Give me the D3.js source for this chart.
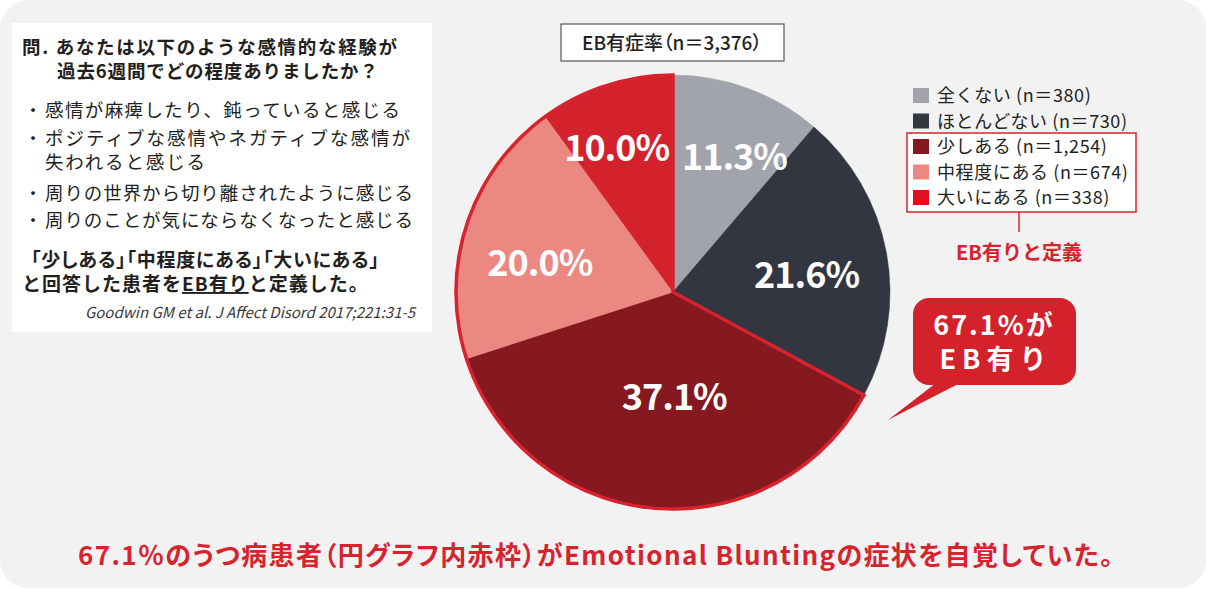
<!DOCTYPE html>
<html>
<head>
<meta charset="utf-8">
<script src="https://cdn.jsdelivr.net/npm/d3@7"></script>
<style>
  body { margin: 0; background: #fff; }
  svg { display: block; }
  text { font-family: "Noto Sans CJK JP", "Noto Sans", sans-serif; }
  .palt { font-feature-settings: "palt"; }
</style>
</head>
<body>
<svg id="chart" width="1206" height="589"></svg>
<script>
// data
const categories = ["全くない", "ほとんどない", "少しある", "中程度にある", "大いにある"];
const counts = [380, 730, 1254, 674, 338];
const ebFlags = [false, false, true, true, true];
const totalN = 3376;
const sliceColors = ["#a1a4ac", "#323640", "#86181f", "#ec8882", "#d4222c"];
const legendColors = ["#a1a4ac", "#323640", "#86181f", "#ec8882", "#e3101f"];

const questionLines = ["問. あなたは以下のような感情的な経験が", "過去6週間でどの程度ありましたか？"];
const bulletLines = [
  ["感情が麻痺したり、鈍っていると感じる"],
  ["ポジティブな感情やネガティブな感情が", "失われると感じる"],
  ["周りの世界から切り離されたように感じる"],
  ["周りのことが気にならなくなったと感じる"]
];
const citation = "Goodwin GM et al. J Affect Disord 2017;221:31-5";
const summary = "67.1％のうつ病患者（円グラフ内赤枠）がEmotional Bluntingの症状を自覚していた。";

const svg = d3.select("#chart");
const red = "#d7232e";
const ink = "#231f20";

// background panel
svg.append("rect")
  .attr("x", 0).attr("y", 0)
  .attr("width", 1206).attr("height", 588)
  .attr("rx", 28)
  .attr("fill", "#f2f2f2");

// left question box
const qbox = svg.append("g");
qbox.append("rect")
  .attr("x", 12).attr("y", 23)
  .attr("width", 420).attr("height", 309)
  .attr("fill", "#fff");

qbox.append("text")
  .attr("x", 22).attr("y", 54)
  .attr("font-size", 18.5).attr("font-weight", 700).attr("fill", ink)
  .attr("textLength", 375).attr("lengthAdjust", "spacing")
  .text(questionLines[0]);
qbox.append("text")
  .attr("x", 57).attr("y", 78)
  .attr("font-size", 18.5).attr("font-weight", 700).attr("fill", ink)
  .attr("textLength", 321).attr("lengthAdjust", "spacing")
  .text(questionLines[1]);

const ys = [[117], [145, 169], [200], [227]];
const widths = [[355], [365, 160], [368], [368]];
bulletLines.forEach((lines, i) => {
  qbox.append("text")
    .attr("x", 24).attr("y", ys[i][0])
    .attr("font-size", 18).attr("fill", ink)
    .text("・");
  lines.forEach((ln, j) => {
    qbox.append("text")
      .attr("x", 45).attr("y", ys[i][j])
      .attr("font-size", 18.5).attr("fill", ink)
      .attr("textLength", widths[i][j]).attr("lengthAdjust", "spacing")
      .text(ln);
  });
});

// definition: two lines in one text block
const def = qbox.append("text")
  .attr("font-size", 19).attr("font-weight", 700).attr("fill", ink);
def.append("tspan")
  .attr("class", "palt")
  .attr("x", 31).attr("y", 267)
  .attr("letter-spacing", 0.75)
  .text("「少しある」「中程度にある」「大いにある」");
def.append("tspan")
  .attr("x", 22).attr("y", 291)
  .attr("letter-spacing", 1)
  .text("と回答した患者を");
def.append("tspan")
  .attr("letter-spacing", 1)
  .attr("text-decoration", "underline")
  .text("EB有り");
def.append("tspan")
  .attr("letter-spacing", 1)
  .text("と定義した。");

qbox.append("text")
  .attr("x", 415).attr("y", 318)
  .attr("text-anchor", "end")
  .attr("font-size", 15).attr("font-style", "italic").attr("fill", "#3a3a3a")
  .attr("font-family", "'Open Sans', 'DejaVu Sans', sans-serif")
  .text(citation);

// pie
const cx = 673, cy = 292, radius = 217;
const pie = d3.pie().sort(null).value(d => d.count);
const pieData = pie(categories.map((c, i) => ({cat: c, count: counts[i], eb: ebFlags[i], i})));
const arc = d3.arc().innerRadius(0).outerRadius(radius);
const gPie = svg.append("g").attr("transform", `translate(${cx},${cy})`);

gPie.selectAll("path.slice")
  .data(pieData)
  .join("path")
  .attr("class", "slice")
  .attr("d", arc)
  .attr("fill", d => sliceColors[d.data.i])
  .attr("stroke", d => sliceColors[d.data.i])
  .attr("stroke-width", 0.5);

// red outline around the EB slices
const ebArcs = pieData.filter(d => d.data.eb);
gPie.append("path")
  .attr("d", arc({startAngle: d3.min(ebArcs, d => d.startAngle), endAngle: d3.max(ebArcs, d => d.endAngle)}))
  .attr("fill", "none")
  .attr("stroke", red)
  .attr("stroke-width", 3.5)
  .attr("stroke-linejoin", "miter");

// labels sit on the centroid ring, nudged like the original
const labelArc = d3.arc().innerRadius(140).outerRadius(140);
const labelNudge = [[13, -4], [-4, 9], [14, -34], [0, 14], [-13, -11]];
gPie.selectAll("text.pct")
  .data(pieData)
  .join("text")
  .attr("class", "pct")
  .attr("transform", d => {
    const [x, y] = labelArc.centroid(d);
    const [nx, ny] = labelNudge[d.data.i];
    return `translate(${x + nx},${y + ny})`;
  })
  .attr("text-anchor", "middle")
  .attr("dy", "0.36em")
  .attr("font-size", 36)
  .attr("font-weight", 700)
  .attr("letter-spacing", -1)
  .attr("fill", "#fff")
  .text(d => (d.data.count / totalN * 100).toFixed(1) + "%");

// title box above pie
svg.append("rect")
  .attr("x", 561).attr("y", 24)
  .attr("width", 223).attr("height", 37)
  .attr("fill", "#fff")
  .attr("stroke", "#555").attr("stroke-width", 1.2);
svg.append("text")
  .attr("class", "palt")
  .attr("x", 672).attr("y", 50)
  .attr("text-anchor", "middle")
  .attr("font-size", 19).attr("font-weight", 500).attr("fill", ink)
  .text(`EB有症率（n＝${d3.format(",")(totalN)}）`);

// legend
const lg = svg.append("g");
lg.append("rect")
  .attr("x", 907).attr("y", 133)
  .attr("width", 229).attr("height", 79)
  .attr("fill", "#fff")
  .attr("stroke", red).attr("stroke-width", 1.5);
const rowY = i => 96 + i * 25.5;
categories.forEach((c, i) => {
  lg.append("rect")
    .attr("x", 913).attr("y", rowY(i) - 8)
    .attr("width", 16).attr("height", 15)
    .attr("fill", legendColors[i]);
  lg.append("text")
    .attr("x", 937).attr("y", rowY(i) + 6)
    .attr("font-size", 18).attr("fill", ink)
    .attr("letter-spacing", 0.6)
    .text(`${c} (n＝${d3.format(",")(counts[i])})`);
});
lg.append("line")
  .attr("x1", 1019).attr("x2", 1019)
  .attr("y1", 212).attr("y2", 232)
  .attr("stroke", red).attr("stroke-width", 1.5);
lg.append("text")
  .attr("x", 1019).attr("y", 260)
  .attr("text-anchor", "middle")
  .attr("font-size", 20).attr("font-weight", 700).attr("fill", red)
  .text("EB有りと定義");

// callout
const ebPct = (d3.sum(counts.filter((c, i) => ebFlags[i])) / totalN * 100).toFixed(1);
const co = svg.append("g");
co.append("path")
  .attr("d", "M940,380 L966,380 L888,420 Z")
  .attr("fill", "#d4222c");
co.append("rect")
  .attr("x", 913).attr("y", 298)
  .attr("width", 163).attr("height", 87)
  .attr("rx", 16)
  .attr("fill", "#d4222c");
const coText = co.append("text")
  .attr("text-anchor", "middle")
  .attr("font-size", 27).attr("font-weight", 700).attr("fill", "#fff");
coText.append("tspan")
  .attr("x", 994).attr("y", 335)
  .attr("letter-spacing", 2)
  .text(`${ebPct}%が`);
coText.append("tspan")
  .attr("x", 996).attr("y", 369)
  .attr("letter-spacing", 6)
  .text("EB有り");

// bottom summary
svg.append("text")
  .attr("class", "palt")
  .attr("x", 78).attr("y", 565)
  .attr("font-size", 26).attr("font-weight", 700).attr("fill", red)
  .attr("textLength", 1035).attr("lengthAdjust", "spacing")
  .text(summary);
</script>
</body>
</html>
